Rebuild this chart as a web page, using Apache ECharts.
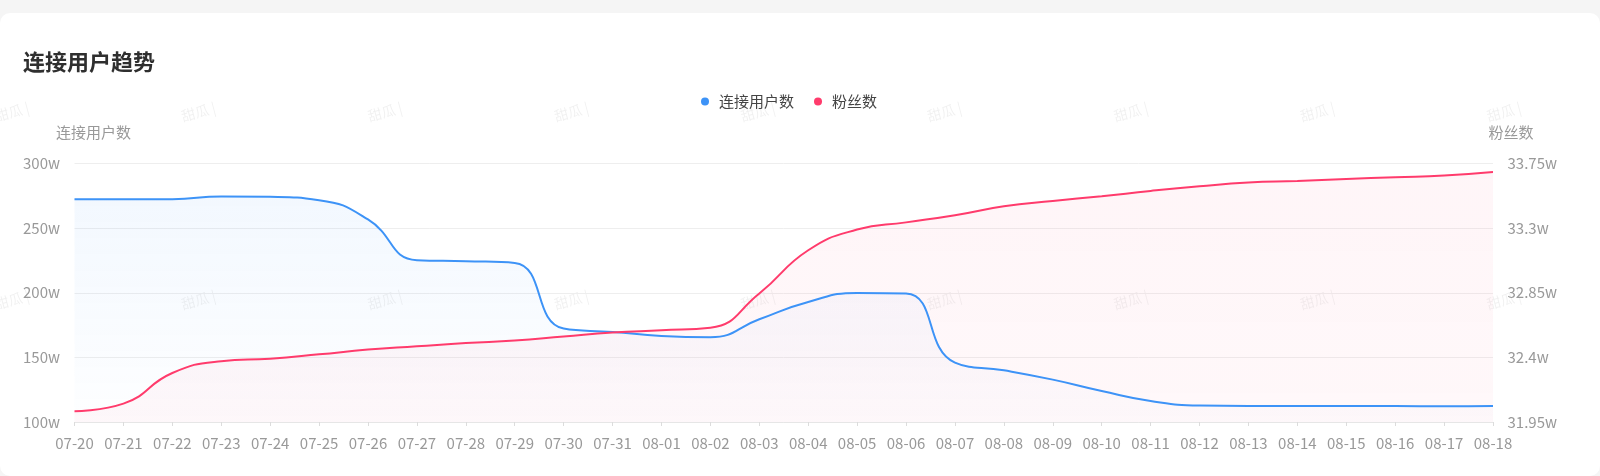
<!DOCTYPE html>
<html>
<head>
<meta charset="utf-8">
<script src="https://cdn.jsdelivr.net/npm/echarts@6/dist/echarts.min.js"></script>
<style>
html,body{margin:0;padding:0;background:#f5f5f5;width:1600px;height:476px;overflow:hidden;}
#card{position:absolute;left:0;top:13px;width:1600px;height:463px;background:#fff;border-radius:10px;}
#chart{position:absolute;left:0;top:0;width:1600px;height:476px;}
</style>
</head>
<body>
<div id="card"></div>
<div id="chart"></div>
<script>
const categories = ['07-20','07-21','07-22','07-23','07-24','07-25','07-26','07-27','07-28','07-29',
  '07-30','07-31','08-01','08-02','08-03','08-04','08-05','08-06','08-07','08-08',
  '08-09','08-10','08-11','08-12','08-13','08-14','08-15','08-16','08-17','08-18'];
// 连接用户数 (unit: w)
const connectedUsers = [272.4,272.4,272.4,274.5,274.2,271.6,256.7,225.2,224.4,223.1,
  172.3,169.7,166.6,165.6,179.5,192.9,199.9,199.4,146.0,140.0,
  132.8,124.0,116.3,112.7,112.4,112.4,112.4,112.3,112.1,112.4];
// 粉丝数 (unit: w)
const fans = [32.025,32.078,32.291,32.373,32.391,32.421,32.454,32.477,32.500,32.517,
  32.545,32.573,32.589,32.607,32.845,33.146,33.290,33.340,33.390,33.452,
  33.489,33.522,33.559,33.591,33.617,33.628,33.642,33.654,33.666,33.690];
const leftAxisTicks = [100,150,200,250,300];
const rightAxisTicks = [31.95,32.4,32.85,33.3,33.75];

const FONT = '"Noto Sans CJK SC","Noto Sans",sans-serif';
const chart = echarts.init(document.getElementById('chart'));

const watermarks = [];
[112, 300].forEach(function(y){
  for (let x = 12; x < 1600; x += 186.5) {
    watermarks.push({
      type:'text', x:x, y:y, rotation: 15*Math.PI/180, silent:true, z:-1,
      style:{text:'甜瓜 |', font:'14px ' + FONT, fill:'rgba(0,0,0,0.06)', textAlign:'center', textVerticalAlign:'middle'}
    });
  }
});

chart.setOption({
  animation:false,
  textStyle:{fontFamily:FONT},
  title:{text:'连接用户趋势', left:18, top:46,
    textStyle:{fontSize:22, fontWeight:'bold', color:'#2f2f2f', fontFamily:FONT}},
  legend:{
    left:696, top:89, itemWidth:8, itemHeight:8, itemGap:20, icon:'circle',
    textStyle:{fontSize:15, color:'#444', padding:[0,0,0,5], fontFamily:FONT},
    data:['连接用户数','粉丝数']
  },
  graphic: watermarks,
  grid:{left:74.5, right:107, top:163.5, bottom:54, containLabel:false},
  xAxis:{
    type:'category', boundaryGap:false, data:categories,
    axisLine:{lineStyle:{color:'#e6e6e6'}},
    axisTick:{show:true, length:4, lineStyle:{color:'#dcdcdc'}},
    axisLabel:{color:'#999', fontSize:15, margin:14, interval:0, fontFamily:FONT}
  },
  yAxis:[{
    type:'value', name:'连接用户数', min:leftAxisTicks[0], max:leftAxisTicks[leftAxisTicks.length-1], interval:50,
    nameGap:24, nameTextStyle:{color:'#999', fontSize:15, align:'center', padding:[0,0,0,38], fontFamily:FONT},
    axisLine:{show:false}, axisTick:{show:false},
    axisLabel:{color:'#999', fontSize:15, margin:14.5, formatter:function(v){return v+'w';}, fontFamily:FONT},
    splitLine:{lineStyle:{color:'#eeeeee'}}
  },{
    type:'value', name:'粉丝数', min:rightAxisTicks[0], max:rightAxisTicks[rightAxisTicks.length-1], interval:0.45,
    nameGap:24, nameTextStyle:{color:'#999', fontSize:15, align:'center', padding:[0,0,0,36], fontFamily:FONT},
    axisLine:{show:false}, axisTick:{show:false},
    axisLabel:{color:'#999', fontSize:15, margin:14.5, formatter:function(v){return parseFloat(v.toFixed(2))+'w';}, fontFamily:FONT},
    splitLine:{show:false}
  }],
  series:[{
    name:'连接用户数', type:'line', yAxisIndex:0, data:connectedUsers, smooth:true, showSymbol:false, symbol:'circle',
    itemStyle:{color:'#3d93f7'}, lineStyle:{color:'#3d93f7', width:2},
    areaStyle:{color:new echarts.graphic.LinearGradient(0,0,0,1,[
      {offset:0, color:'rgba(61,147,247,0.09)'},{offset:1, color:'rgba(61,147,247,0.01)'}])}
  },{
    name:'粉丝数', type:'line', yAxisIndex:1, data:fans, smooth:true, showSymbol:false, symbol:'circle',
    itemStyle:{color:'#ff3b6c'}, lineStyle:{color:'#ff3b6c', width:2},
    areaStyle:{color:new echarts.graphic.LinearGradient(0,0,0,1,[
      {offset:0, color:'rgba(255,59,108,0.07)'},{offset:1, color:'rgba(255,59,108,0.05)'}])}
  }]
});
</script>
</body>
</html>
